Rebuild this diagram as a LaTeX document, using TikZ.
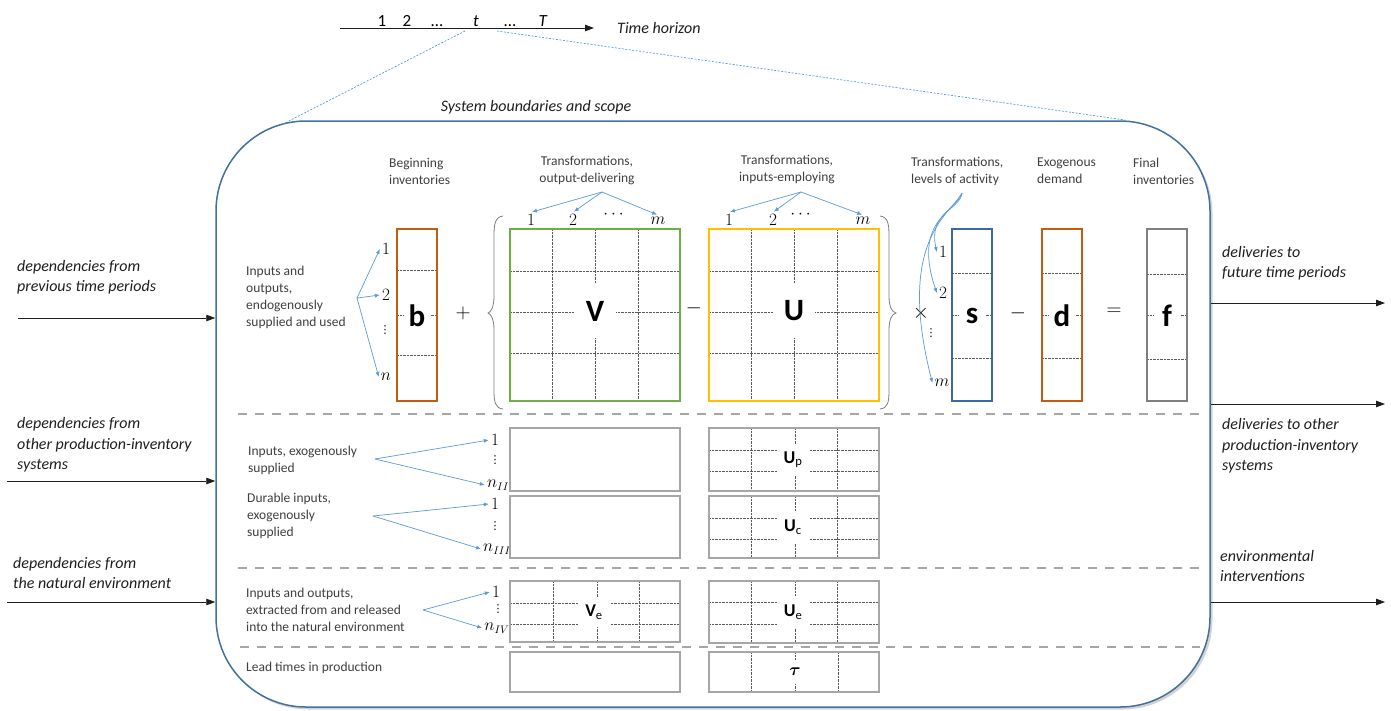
\documentclass[tikz,border=0pt]{standalone}
\usepackage{amsmath}
\usepackage{fontspec}
\setmainfont{Carlito}
\newfontfamily\symfont{DejaVu Sans}
\usetikzlibrary{arrows.meta,positioning,calc,shadows}
\definecolor{ink}{HTML}{1E1E1E}
\definecolor{labelgray}{HTML}{3F3F3F}
\definecolor{boundary}{HTML}{41719C}
\definecolor{arrowblue}{HTML}{5B9BD5}
\definecolor{vorange}{HTML}{C55A11}
\definecolor{vgreen}{HTML}{70AD47}
\definecolor{vgold}{HTML}{FFC000}
\definecolor{vblue}{HTML}{3A69A5}
\definecolor{vgray}{HTML}{7F7F7F}
\definecolor{boxgray}{HTML}{A6A6A6}
\definecolor{dotgray}{HTML}{595959}

\tikzset{
  graylabel/.style={text=labelgray, inner sep=0pt, anchor=west, align=left,
    font=\fontsize{13.5}{17}\selectfont},
  sidelabel/.style={text=ink, inner sep=0pt, anchor=west, align=left,
    font=\fontsize{16}{20.5}\selectfont\itshape},
  idx/.style={inner sep=2pt, font=\fontsize{16}{16}\selectfont},
  vdotsym/.style={inner sep=0pt, font=\symfont\fontsize{11}{11}\selectfont},
  bigsym/.style={fill=white, inner sep=0pt, font=\fontsize{31}{31}\selectfont\bfseries},
  smallsym/.style={fill=white, inner sep=0pt, font=\fontsize{18}{18}\selectfont},
  opsym/.style={inner sep=0pt, font=\fontsize{22}{22}\selectfont},
  vecbox/.style={line width=2.5pt},
  lowbox/.style={draw=boxgray, line width=1.4pt},
  gridline/.style={draw=dotgray, line width=0.6pt, dash pattern=on 0.6pt off 0.8pt},
  divider/.style={draw=boxgray, line width=2.6pt, dash pattern=on 9pt off 8pt},
  forkarrow/.style={draw=arrowblue, line width=0.7pt, -{Latex[length=5pt,width=4pt]}},
  flowarrow/.style={draw=ink, line width=0.9pt, -{Triangle[length=9pt,width=6.5pt]}},
  bracket/.style={draw=vgray, line width=0.8pt},
}

\begin{document}
\begin{tikzpicture}[x=1pt, y=-1pt]
  \useasboundingbox (0,0) rectangle (1391,710);

  % system boundary
  \node[draw=boundary, line width=1.5pt, fill=white, rounded corners=90pt,
    minimum width=994pt, minimum height=586pt, inner sep=0pt,
    drop shadow={shadow xshift=2.5pt, shadow yshift=-2.5pt, opacity=0.35}] (sysbound) at (713,414) {};
  \node[sidelabel, anchor=center] (scopetitle) at (536,107) {System boundaries and scope};

  % time axis
  \coordinate (tstart) at (340,28);
  \coordinate (tend) at (594,28);
  \draw[flowarrow] (tstart) -- (tend);
  \node[sidelabel, right=23pt of tend] (horizon) {Time horizon};
  \foreach \tx/\tl/\tn in {382/1/tone, 407/2/ttwo, 437/\dots/tdotsa, 476/\textit{t}/tt, 510/\dots/tdotsb, 543/\textit{T}/tT}
    \node[inner sep=0pt, anchor=base, font=\fontsize{17}{17}\selectfont] (\tn) at (\tx,26) {\tl};
  \coordinate (tfootl) at (465,31);
  \coordinate (tfootr) at (497,31);
  \coordinate (cornerl) at (281,125);
  \coordinate (cornerr) at (1125,120);
  \draw[arrowblue, line width=0.7pt, dash pattern=on 2pt off 1.5pt] (tfootl) -- (cornerl) (tfootr) -- (cornerr);

  % flows across the boundary
  \foreach \nm/\yy/\xx in {ina/318/18, inb/481/7, inc/602/7} {
    \coordinate (\nm) at (\xx,\yy);
    \draw[flowarrow] (\nm) -- (\nm -| sysbound.west);
  }
  \foreach \nm/\yy in {outa/303, outb/404, outc/602} {
    \coordinate (\nm) at (1385,\yy);
    \draw[flowarrow] (\nm -| sysbound.east) -- (\nm);
  }
  \node[sidelabel] (depprev) at (17,277) {dependencies from\\previous time periods};
  \node[sidelabel] (depsys) at (17,445) {dependencies from\\other production-inventory\\systems};
  \node[sidelabel] (depnat) at (13,573) {dependencies from\\the natural environment};
  \node[sidelabel] (delfut) at (1222,263) {deliveries to\\future time periods};
  \node[sidelabel] (delsys) at (1222,446) {deliveries to other\\production-inventory\\systems};
  \node[sidelabel] (envint) at (1220,566) {environmental\\interventions};

  % column headings
  \node[graylabel] (beginv) at (389,171) {Beginning\\inventories};
  \node[graylabel, anchor=center, align=center] (todeliv) at (587,170) {Transformations,\\output-delivering};
  \node[graylabel, anchor=center, align=center] (toemploy) at (787,169) {Transformations,\\inputs-employing};
  \node[graylabel] (tolevel) at (911,171) {Transformations,\\levels of activity};
  \node[graylabel] (exodem) at (1037,171) {Exogenous\\demand};
  \node[graylabel] (fininv) at (1133,171) {Final\\inventories};

  % row headings
  \node[graylabel] (endog) at (246,297) {Inputs and\\outputs,\\endogenously\\supplied and used};
  \node[graylabel] (exsup) at (248,460) {Inputs, exogenously\\supplied};
  \node[graylabel] (durin) at (247,516) {Durable inputs,\\exogenously\\supplied};
  \node[graylabel] (natenv) at (246,610) {Inputs and outputs,\\extracted from and released\\into the natural environment};
  \node[graylabel] (leadt) at (246,668) {Lead times in production};

  % vectors b, s, d, f
  \foreach \nm/\cx/\col/\ya/\yb in {b/417/vorange/270/355, s/972/vblue/273/358, d/1062/vorange/273/358, f/1167/vgray/274/359} {
    \draw[gridline] (\cx-20,\ya) -- (\cx+20,\ya) (\cx-20,315) -- (\cx+20,315) (\cx-20,\yb) -- (\cx+20,\yb);
    \node[bigsym, minimum width=26pt, minimum height=40pt] (\nm) at (\cx,316) {\nm};
    \draw[vecbox, draw=\col] (\cx-20,229) rectangle (\cx+20,401);
  }

  % matrices V and U
  \foreach \nm/\cx/\col in {V/595/vgreen, U/794/vgold} {
    \foreach \dx in {-43,0,43} \draw[gridline] (\cx+\dx,229) -- (\cx+\dx,401);
    \foreach \gy in {271,312,353} \draw[gridline] (\cx-85,\gy) -- (\cx+85,\gy);
    \node[bigsym, minimum width=42pt, minimum height=54pt] (\nm) at (\cx,311) {\nm};
    \draw[vecbox, draw=\col] (\cx-85,229) rectangle (\cx+85,401);
  }
  \foreach \nm/\xa/\xb/\xc/\xd/\xf in {V/531/573/615/658/602, U/729/773/802/863/801} {
    \node[idx] (\nm c1) at (\xa,220) {$1$};
    \node[idx] (\nm c2) at (\xb,220) {$2$};
    \node[idx] (\nm cd) at (\xc,215) {$\cdots$};
    \node[idx] (\nm cm) at (\xd,221) {$m$};
    \coordinate (\nm fork) at (\xf,192);
    \foreach \tg in {c1,c2,cm} \draw[forkarrow, shorten >=1pt] (\nm fork) -- (\nm\tg.north);
  }

  % braces and operators
  \draw[bracket] (503,216) .. controls (495,217) and (494,224) .. (494,236) -- (494,296)
    .. controls (494,307) and (491,312) .. (488,313) .. controls (491,314) and (494,319) .. (494,330)
    -- (494,390) .. controls (494,402) and (495,408) .. (503,409);
  \draw[bracket] (880,216) .. controls (888,217) and (889,224) .. (889,236) -- (889,296)
    .. controls (889,307) and (892,312) .. (896,313) .. controls (892,314) and (889,319) .. (889,330)
    -- (889,390) .. controls (889,402) and (888,408) .. (880,409);
  \node[opsym] (plus) at (463,313) {$+$};
  \node[opsym] (minusa) at (694,308) {$-$};
  \node[opsym] (times) at (921,313) {$\times$};
  \node[opsym] (minusb) at (1018,313) {$-$};
  \node[opsym] (equals) at (1114,312) {$=$};

  % index forks
  \node[idx] (bi1) at (386,249) {$1$};
  \node[idx] (bi2) at (386,295) {$2$};
  \node[vdotsym] (bid) at (385,330) {⋮};
  \node[idx] (bin) at (386,377) {$n$};
  \coordinate (bfork) at (357,298);
  \foreach \tg in {bi1,bi2,bin} \draw[forkarrow] (bfork) -- (\tg.west);

  \node[idx] (s1) at (943,252) {$1$};
  \node[idx] (s2) at (943,293) {$2$};
  \node[vdotsym] (sd) at (931,333) {⋮};
  \node[idx] (sm) at (942,383) {$m$};
  \coordinate (sfork) at (962,193);
  \draw[forkarrow] (sfork) .. controls (960,210) and (928,212) .. (s1.west);
  \draw[forkarrow] (sfork) .. controls (956,212) and (912,220) .. (s2.west);
  \draw[forkarrow] (sfork) .. controls (950,215) and (896,240) .. (sm.west);

  \node[idx] (e1) at (495,440) {$1$};
  \node[vdotsym] (ed) at (495,460) {⋮};
  \node[idx] (en) at (498,485) {$n_{II}$};
  \coordinate (efork) at (375,459);
  \foreach \tg in {e1,en} \draw[forkarrow] (efork) -- (\tg.west);

  \node[idx] (du1) at (495,504) {$1$};
  \node[vdotsym] (dud) at (495,526) {⋮};
  \node[idx] (dun) at (497,549) {$n_{III}$};
  \coordinate (dufork) at (373,516);
  \foreach \tg in {du1,dun} \draw[forkarrow] (dufork) -- (\tg.west);

  \node[idx] (na1) at (496,592) {$1$};
  \node[vdotsym] (nad) at (498,609) {⋮};
  \node[idx] (nan) at (497,628) {$n_{IV}$};
  \coordinate (nafork) at (423,610);
  \foreach \tg in {na1,nan} \draw[forkarrow] (nafork) -- (\tg.west);

  % lower blocks
  \draw[lowbox] (510,428) rectangle (680,491);
  \draw[lowbox] (510,496) rectangle (680,558);
  \draw[lowbox] (510,652) rectangle (680,692);
  \foreach \gx in {553,597,639} \draw[gridline] (\gx,581) -- (\gx,642);
  \foreach \gy in {603,624} \draw[gridline] (510,\gy) -- (680,\gy);
  \node[smallsym, minimum width=32pt, minimum height=30pt] (Ve) at (594,612) {{\bfseries V}\textsubscript{e}};
  \draw[lowbox] (510,581) rectangle (680,642);

  \foreach \sub/\yt/\yb/\ya/\yc in {p/428/491/450/471, c/496/558/518/539, e/581/643/602/624} {
    \foreach \gx in {751,795,837} \draw[gridline] (\gx,\yt) -- (\gx,\yb);
    \foreach \gy in {\ya,\yc} \draw[gridline] (709,\gy) -- (879,\gy);
    \node[smallsym, minimum width=32pt, minimum height=32pt] (U\sub) at (793,{(\yt+\yb)/2}) {{\bfseries U}\textsubscript{\sub}};
    \draw[lowbox] (709,\yt) rectangle (879,\yb);
  }
  \foreach \gx in {751,795,838} \draw[gridline] (\gx,652) -- (\gx,692);
  \node[smallsym, minimum width=20pt, minimum height=24pt] (tau) at (795,672) {$\boldsymbol{\tau}$};
  \draw[lowbox] (709,652) rectangle (879,692);

  % section dividers
  \draw[divider] (238,414) -- (1203,414);
  \draw[divider] (238,568) -- (1200,568);
  \draw[divider] (240,647) -- (1200,647);
\end{tikzpicture}
\end{document}
